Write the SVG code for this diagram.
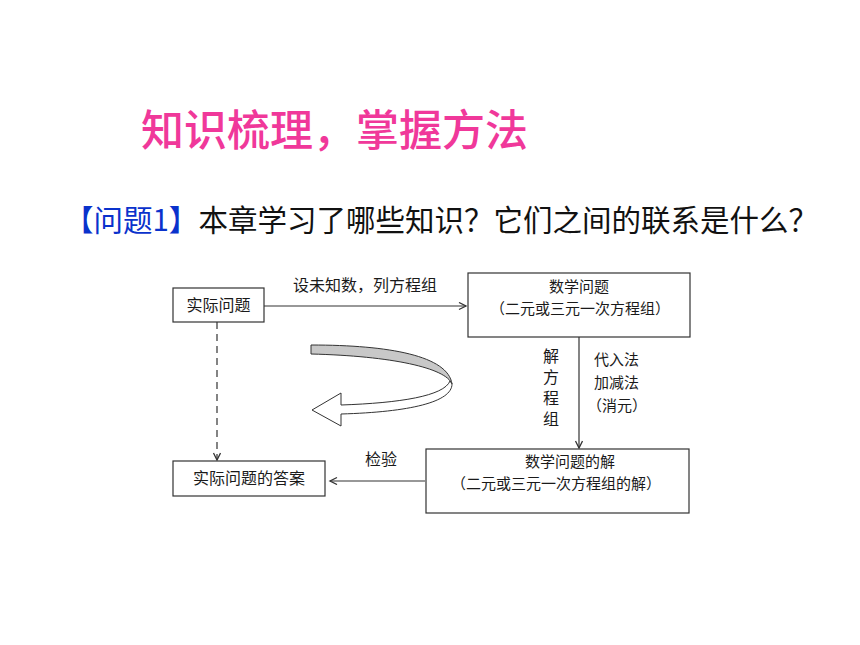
<svg xmlns="http://www.w3.org/2000/svg" width="860" height="645" viewBox="0 0 860 645">
<style>
.t{font-family:"Noto Sans CJK SC","Liberation Sans",sans-serif;font-size:16px;fill:#1a1a1a}
.s{font-size:15px}
.box{fill:#fff;stroke:#333;stroke-width:1.2}
.ln{stroke:#333;stroke-width:1.2;fill:none}
</style>
<defs>
<marker id="ar" markerWidth="10" markerHeight="10" refX="8" refY="4" orient="auto" markerUnits="userSpaceOnUse">
<path d="M1,0.5 L8,4 L1,7.5" fill="none" stroke="#333" stroke-width="1.3"/>
</marker>
</defs>
<rect width="860" height="645" fill="#fff"/>
<text x="141" y="146" font-family="'Noto Sans CJK SC',sans-serif" font-size="43" font-weight="500" fill="#F0389A">知识梳理，掌握方法</text>
<text x="64" y="231" font-family="'Noto Sans CJK SC',sans-serif" font-size="29.5"><tspan fill="#0A32CC">【问题1】</tspan><tspan fill="#111">本章学习了哪些知识？它们之间的联系是什么？</tspan></text>
<g id="connectors">
<line class="ln" x1="264" y1="306" x2="466" y2="306" marker-end="url(#ar)"/>
<line class="ln" x1="579" y1="337" x2="579" y2="448" marker-end="url(#ar)"/>
<line class="ln" x1="425" y1="481" x2="330" y2="481" marker-end="url(#ar)"/>
<line class="ln" x1="217" y1="322" x2="217" y2="460" stroke-dasharray="7,5" stroke-width="1.6" marker-end="url(#ar)"/>
<text class="t" x="293" y="291">设未知数，列方程组</text>
<text class="t" x="551" y="348" writing-mode="tb" style="letter-spacing:5px">解方程组</text>
<text class="t s" x="594" y="365">代入法</text>
<text class="t s" x="594" y="388">加减法</text>
<text class="t s" x="587" y="411">（消元）</text>
<text class="t" x="365" y="465">检验</text>
</g>
<g id="curved-arrow" stroke="#333" stroke-width="1">
<path d="M311,345 C390,345 448,356 452,384 C446,368 392,356 311,354 Z" fill="#c8c8c8"/>
<path d="M450,381 C444,396 400,403 341,405 L341,393 L312,410 L341,426 L341,414 C410,412 452,402 452,384 Z" fill="#fff"/>
</g>
<g id="node-real">
<rect class="box" x="173" y="288" width="91" height="34"/>
<text class="t" x="218.5" y="311" text-anchor="middle">实际问题</text>
</g>
<g id="node-math">
<rect class="box" x="468" y="273" width="222" height="64"/>
<text class="t s" x="579" y="292" text-anchor="middle">数学问题</text>
<text class="t s" x="580" y="314" text-anchor="middle">（二元或三元一次方程组）</text>
</g>
<g id="node-solution">
<rect class="box" x="426" y="449" width="263" height="64"/>
<text class="t s" x="570" y="467" text-anchor="middle">数学问题的解</text>
<text class="t s" x="556" y="489" text-anchor="middle">（二元或三元一次方程组的解）</text>
</g>
<g id="node-answer">
<rect class="box" x="173" y="461" width="152" height="35"/>
<text class="t" x="249" y="484" text-anchor="middle">实际问题的答案</text>
</g>
</svg>
